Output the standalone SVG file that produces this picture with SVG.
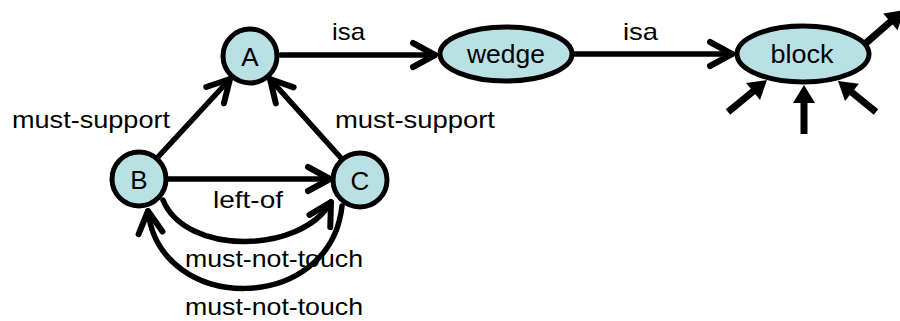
<svg xmlns="http://www.w3.org/2000/svg" width="900" height="321" viewBox="0 0 900 321">
<defs>
<style>
.node{fill:#b9e0e3;stroke:#000;stroke-width:5}
.lbl{font-family:"Liberation Sans",Arial,sans-serif;font-size:24px;fill:#000}
.nt{font-family:"Liberation Sans",Arial,sans-serif;font-size:26px;fill:#000;text-anchor:middle}
.edge{fill:none;stroke:#000;stroke-width:5.5;stroke-linecap:round}
.thick{fill:none;stroke:#000;stroke-width:7}
</style>
<marker id="chev" markerUnits="userSpaceOnUse" orient="auto" overflow="visible" markerWidth="30" markerHeight="30" refX="0" refY="0">
<path d="M-22,-12 L0,0 L-22,12" fill="none" stroke="#000" stroke-width="6" stroke-linecap="round" stroke-linejoin="round"/>
</marker>
<marker id="tri" markerUnits="userSpaceOnUse" orient="auto" overflow="visible" markerWidth="30" markerHeight="30" refX="0" refY="0">
<path d="M-6,-11 L12,0 L-6,11 Z" fill="#000"/>
</marker>
</defs>
<rect width="900" height="321" fill="#fff"/>
<g id="connectors">
<path class="edge" d="M281,55 L435,55" marker-end="url(#chev)"/>
<path class="edge" d="M575,54 L732,54" marker-end="url(#chev)"/>
<path class="edge" d="M158,157 L230,79" marker-end="url(#chev)"/>
<path class="edge" d="M341,158 L270,79" marker-end="url(#chev)"/>
<path class="edge" d="M168,179 L330,179" marker-end="url(#chev)"/>
<path class="edge" d="M163,200 C185,255 300,255 331,202" marker-end="url(#chev)"/>
<path class="edge" d="M342,206 C330,315 160,315 148,211" marker-end="url(#chev)"/>
<path class="thick" d="M804,134 L804,97" marker-end="url(#tri)"/>
<path class="thick" d="M728,112 L757.7,87.6" marker-end="url(#tri)"/>
<path class="thick" d="M876,112 L847.3,88.6" marker-end="url(#tri)"/>
<path class="thick" d="M866,43 L894.9,17.9" marker-end="url(#tri)"/>
</g>
<g id="labels">
<text class="lbl" x="332" y="40" textLength="33" lengthAdjust="spacingAndGlyphs">isa</text>
<text class="lbl" x="623" y="40" textLength="35" lengthAdjust="spacingAndGlyphs">isa</text>
<text class="lbl" x="12" y="128" textLength="158" lengthAdjust="spacingAndGlyphs">must-support</text>
<text class="lbl" x="335" y="128" textLength="160" lengthAdjust="spacingAndGlyphs">must-support</text>
<text class="lbl" x="213" y="208" textLength="70" lengthAdjust="spacingAndGlyphs">left-of</text>
<text class="lbl" x="185" y="267" textLength="178" lengthAdjust="spacingAndGlyphs">must-not-touch</text>
<text class="lbl" x="185" y="315" textLength="178" lengthAdjust="spacingAndGlyphs">must-not-touch</text>
</g>
<g id="node-A"><circle class="node" cx="250" cy="56" r="27"/><text class="nt" x="250" y="66">A</text></g>
<g id="node-B"><circle class="node" cx="139" cy="179" r="27"/><text class="nt" x="139" y="189">B</text></g>
<g id="node-C"><circle class="node" cx="360" cy="180" r="27"/><text class="nt" x="360" y="190">C</text></g>
<g id="node-wedge"><ellipse class="node" cx="506" cy="54" rx="66" ry="27"/><text class="nt" x="506" y="63" textLength="78" lengthAdjust="spacingAndGlyphs">wedge</text></g>
<g id="node-block"><ellipse class="node" cx="803" cy="54" rx="66" ry="28"/><text class="nt" x="802" y="63" textLength="63" lengthAdjust="spacingAndGlyphs">block</text></g>
</svg>
